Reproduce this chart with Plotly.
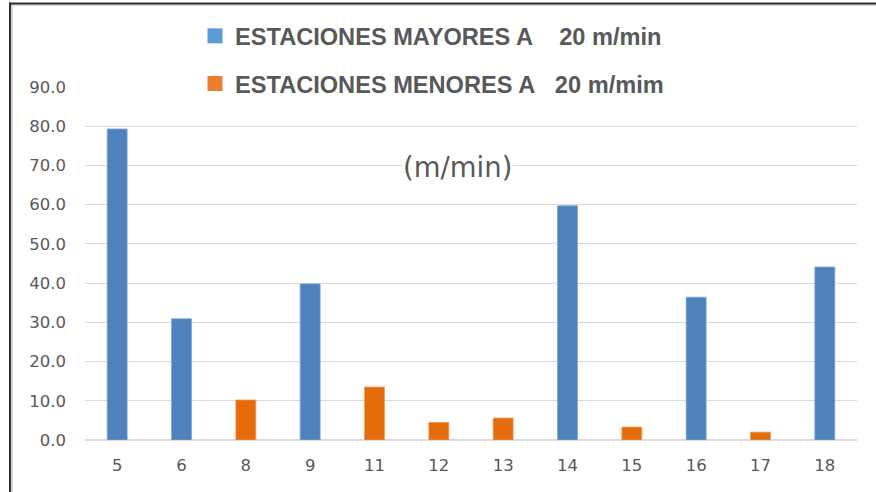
import plotly.graph_objects as go

# Station numbers along the x axis
estaciones = ["5", "6", "8", "9", "11", "12", "13", "14", "15", "16", "17", "18"]

# Velocity per station (m/min); None where the station belongs to the other group
mayores = [79.3, 30.9, None, 39.8, None, None, None, 59.7, None, 36.4, None, 44.1]
menores = [None, None, 10.2, None, 13.5, 4.5, 5.6, None, 3.3, None, 2.0, None]

y_ticks = [0, 10, 20, 30, 40, 50, 60, 70, 80, 90]
y_tick_text = [f"{v:.1f}" for v in y_ticks]

nombre_mayores = "<b>ESTACIONES MAYORES A\u00a0\u00a0\u00a0 20 m/min</b>"
nombre_menores = "<b>ESTACIONES MENORES A\u00a0\u00a0 20 m/mim</b>"

W, H = 876, 492
ML, MR, MT, MB = 85, 19, 87, 52
PW, PH = W - ML - MR, H - MT - MB


def px_x(px):
    return (px - ML) / PW


def px_y(py):
    return (H - MB - py) / PH


fig = go.Figure()

fig.add_trace(go.Bar(
    x=estaciones, y=mayores, width=0.31, showlegend=False,
    marker=dict(color="#4F81BD", line=dict(color="#7EA6D6", width=0.8)),
))
fig.add_trace(go.Bar(
    x=estaciones, y=menores, width=0.31, showlegend=False,
    marker=dict(color="#E46C0A", line=dict(color="#EE9A55", width=0.8)),
))

# Legend entries (square swatches)
fig.add_trace(go.Scatter(
    x=[None], y=[None], mode="markers", name=nombre_mayores, legendgroup="a",
    marker=dict(symbol="square", size=15, color="#5B9BD5", line=dict(width=0)),
))
fig.add_trace(go.Scatter(
    x=[None], y=[None], mode="markers", name=nombre_menores, legendgroup="b",
    marker=dict(symbol="square", size=15, color="#ED7D31", line=dict(width=0)),
))

fig.update_layout(
    width=W, height=H,
    margin=dict(l=ML, r=MR, t=MT, b=MB, pad=0),
    paper_bgcolor="white", plot_bgcolor="white",
    barmode="overlay",
    font=dict(family="DejaVu Sans", color="#595959", size=16),
    legend=dict(
        x=px_x(195), xanchor="left",
        y=px_y(14), yanchor="top",
        bgcolor="white", borderwidth=0,
        font=dict(family="Liberation Sans", size=23.6, color="#595959"),
        tracegroupgap=14, traceorder="grouped",
    ),
    xaxis=dict(
        type="category", categoryorder="array", categoryarray=estaciones,
        range=[-0.5, len(estaciones) - 0.5],
        showgrid=False, showline=False, zeroline=False,
        ticks="", ticklabelstandoff=13,
        tickfont=dict(family="DejaVu Sans", size=16.5, color="#595959"),
    ),
    yaxis=dict(
        range=[0, 90], tickvals=y_ticks, ticktext=y_tick_text,
        showgrid=True, gridcolor="#D9D9D9", gridwidth=1,
        zeroline=True, zerolinecolor="#D9D9D9", zerolinewidth=1.5,
        showline=False, ticks="", ticklabelstandoff=18,
        tickfont=dict(family="DejaVu Sans", size=16.5, color="#595959"),
    ),
    annotations=[dict(
        text="(m/min)", xref="paper", yref="paper",
        x=px_x(457), y=px_y(167), xanchor="center", yanchor="middle",
        showarrow=False, bgcolor="white", borderpad=0,
        font=dict(family="DejaVu Sans", size=27.5, color="#595959"),
    )],
    shapes=[
        # outer frame: top and left edges
        dict(type="line", xref="paper", yref="paper",
             x0=px_x(10), x1=px_x(W + 5), y0=px_y(5), y1=px_y(5),
             line=dict(color="#C8C8C8", width=1.5)),
        dict(type="line", xref="paper", yref="paper",
             x0=px_x(12), x1=px_x(12), y0=px_y(3), y1=px_y(H + 5),
             line=dict(color="#C8C8C8", width=1.5)),
        dict(type="line", xref="paper", yref="paper",
             x0=px_x(9), x1=px_x(W + 5), y0=px_y(3.5), y1=px_y(3.5),
             line=dict(color="#303030", width=2)),
        dict(type="line", xref="paper", yref="paper",
             x0=px_x(10), x1=px_x(10), y0=px_y(2.5), y1=px_y(H + 5),
             line=dict(color="#303030", width=2)),
    ],
)

fig.write_html("out.html")
